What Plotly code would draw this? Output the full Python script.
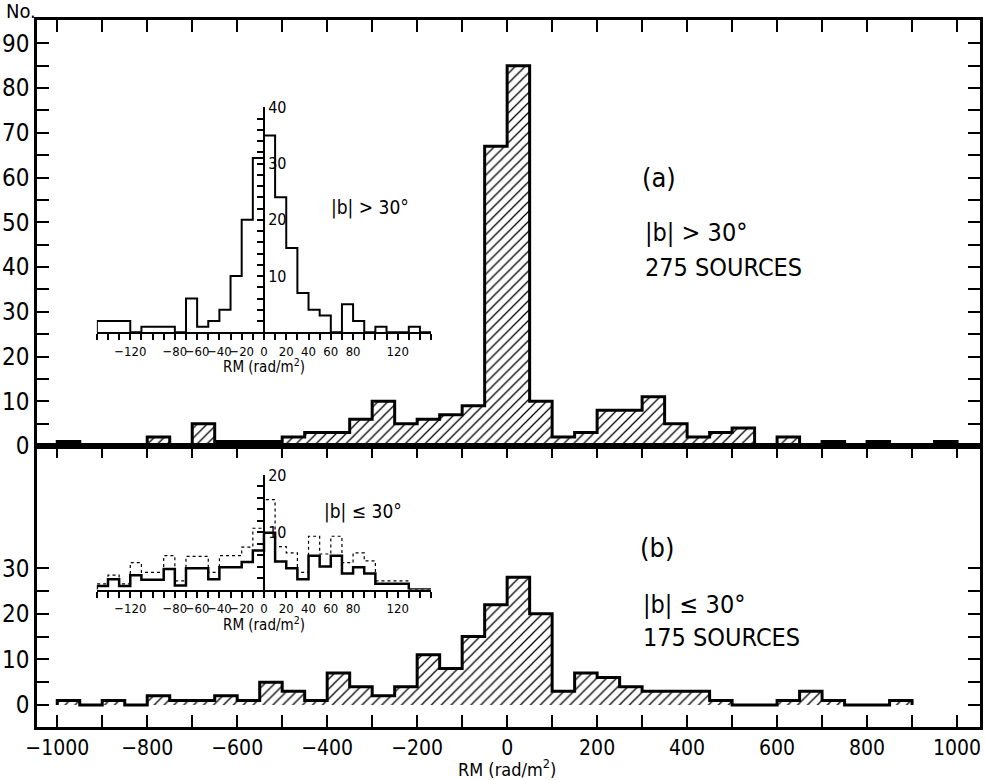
import numpy as np
import plotly.graph_objects as go

# ---------------- data ----------------
# main histograms: 50 rad/m^2 bins from -1000 to 1000
main_bin_start = list(range(-1000, 1000, 50))
main_bin_width = 50
high_lat_counts = [1, 0, 0, 0, 2, 0, 5, 1, 1, 1,
                   2, 3, 3, 6, 10, 5, 6, 7, 9, 67,
                   85, 10, 2, 3, 8, 8, 11, 5, 2, 3,
                   4, 0, 2, 0, 1, 0, 1, 0, 0, 1]
low_lat_counts = [1, 0, 1, 0, 2, 1, 1, 2, 1, 5,
                  3, 1, 7, 4, 2, 4, 11, 8, 15, 22,
                  28, 20, 3, 7, 6, 4, 3, 3, 3, 1,
                  0, 0, 1, 3, 1, 0, 0, 1, 0, 0]

# insets: 10 rad/m^2 bins from -150 to 150
inset_bin_start = list(range(-150, 150, 10))
inset_bin_width = 10
inset_high_counts = [2, 2, 2, 0, 1, 1, 1, 0, 6, 1,
                     2, 4, 10, 20, 31, 35, 24, 15, 7, 4,
                     3, 0, 5, 2, 0, 1, 0, 0, 1, 0]
inset_low_solid = [0.6, 1.8, 0.6, 2.5, 1.7, 1.7, 3.6, 0.7, 3.7, 3.7,
                   1.8, 3.9, 3.9, 4.8, 6.8, 9.9, 4.9, 3.7, 1.8, 5.9,
                   4.0, 5.9, 2.8, 3.9, 2.8, 1.0, 1.0, 1.0, 0, 0]
inset_low_dotted = [1.0, 2.5, 1.0, 4.7, 3.0, 3.0, 5.9, 1.5, 5.8, 5.8,
                    3.0, 5.9, 5.9, 7.4, 10.7, 15.7, 7.5, 6.4, 3.0, 9.3,
                    6.2, 9.3, 4.7, 6.4, 5.0, 1.5, 1.5, 1.5, 0, 0]

main_xlabel_vals = list(range(-1000, 1001, 200))
inset_xlabel_vals = [-120, -80, -60, -40, -20, 0, 20, 40, 60, 80, 120]

FONT = "Liberation Sans Narrow, DejaVu Sans Condensed, Arial Narrow, sans-serif"

# plot-area pixel geometry (figure 985x780)
L, R, T, B = 33, 2, 20, 53
W, H = 985 - L - R, 780 - T - B


def px(xp):
    return (xp - L) / W


def py(yp):
    return (780 - B - yp) / H


def step_xy(starts, width, vals, trim=False):
    starts = list(starts)
    vals = list(vals)
    if trim:
        nz = [i for i, v in enumerate(vals) if v]
        starts = starts[nz[0]:nz[-1] + 1]
        vals = vals[nz[0]:nz[-1] + 1]
    xs = [starts[0]] + starts + [starts[-1] + width]
    ys = [0] + vals + [0]
    return xs, ys


fig = go.Figure()

hatch = dict(shape="/", fgcolor="black", bgcolor="white", size=7, solidity=0.18, fillmode="replace")

centers = [s + main_bin_width / 2 for s in main_bin_start]
for counts, xa, ya in [(high_lat_counts, "x", "y"), (low_lat_counts, "x2", "y2")]:
    fig.add_trace(go.Bar(x=centers, y=counts, width=main_bin_width, xaxis=xa, yaxis=ya,
                         marker=dict(color="white", line=dict(width=0), pattern=hatch),
                         showlegend=False))
    sx, sy = step_xy(main_bin_start, main_bin_width, counts, trim=True)
    fig.add_trace(go.Scatter(x=sx, y=sy, mode="lines", line_shape="hv", xaxis=xa, yaxis=ya,
                             line=dict(color="black", width=3), showlegend=False))

sx, sy = step_xy(inset_bin_start, inset_bin_width, inset_high_counts)
fig.add_trace(go.Scatter(x=sx, y=sy, mode="lines", line_shape="hv", xaxis="x3", yaxis="y3",
                         line=dict(color="black", width=2), showlegend=False))
sx, sy = step_xy(inset_bin_start, inset_bin_width, inset_low_dotted)
fig.add_trace(go.Scatter(x=sx, y=sy, mode="lines", line_shape="hv", xaxis="x4", yaxis="y4",
                         line=dict(color="black", width=1.2, dash="dot"), showlegend=False))
sx, sy = step_xy(inset_bin_start, inset_bin_width, inset_low_solid)
fig.add_trace(go.Scatter(x=sx, y=sy, mode="lines", line_shape="hv", xaxis="x4", yaxis="y4",
                         line=dict(color="black", width=2.5), showlegend=False))

xrange_main = [-1045, 1051]
divider = py(446)

common = dict(showgrid=False, zeroline=False, showline=True, linecolor="black", linewidth=2.5,
              tickcolor="black", tickwidth=2)


def minor(dtick, tick0, ticklen, tickwidth=2):
    return dict(dtick=dtick, tick0=tick0, ticks="inside", ticklen=ticklen,
                tickwidth=tickwidth, tickcolor="black", showgrid=False)


inset_x = dict(common, linewidth=2, range=[-150, 150], ticks="outside", ticklen=6, tickwidth=1.5,
               tickvals=inset_xlabel_vals, tickfont=dict(size=13), tickangle=0,
               minor=dict(dtick=10, tick0=0, ticks="outside", ticklen=6, tickwidth=1.5,
                          tickcolor="black", showgrid=False))

fig.update_layout(
    width=985, height=780,
    margin=dict(l=L, r=R, t=T, b=B),
    paper_bgcolor="white", plot_bgcolor="white",
    bargap=0,
    font=dict(family=FONT, color="black"),
    xaxis=dict(common, domain=[0, 1], anchor="y", range=xrange_main, side="top", ticks="inside",
               ticklen=12, dtick=100, tick0=0, showticklabels=False, mirror=True),
    yaxis=dict(common, domain=[divider, 1], anchor="x", range=[0, 95.2], ticks="inside",
               ticklen=12, mirror="allticks", tickvals=list(range(0, 91, 10)),
               minor=minor(5, 0, 12), tickfont=dict(size=24)),
    xaxis2=dict(common, domain=[0, 1], anchor="y2", range=xrange_main, side="bottom", ticks="inside",
                ticklen=12, mirror="allticks", tickvals=main_xlabel_vals,
                minor=minor(100, 0, 12), tickfont=dict(size=21), tickangle=0),
    yaxis2=dict(common, domain=[0, divider], anchor="x2", range=[-4.83, 56.8], ticks="inside",
                ticklen=12, mirror="allticks", tickvals=[0, 10, 20, 30],
                minor=dict(minor(5, 0, 12), tickvals=[5, 15, 25]), tickfont=dict(size=24)),
    # inset (a)
    xaxis3=dict(inset_x, domain=[px(93.3), px(430)], anchor="y3"),
    yaxis3=dict(common, linewidth=2, domain=[py(332.3), py(107.3)], anchor="free",
                position=px(261.7), side="right", range=[0, 40], ticks="inside", ticklen=6,
                tickwidth=1.5, tickvals=[10, 20, 30, 40],
                minor=minor(2, 0, 6, 1.5), tickfont=dict(size=16)),
    # inset (b)
    xaxis4=dict(inset_x, domain=[px(93.3), px(430)], anchor="y4"),
    yaxis4=dict(common, linewidth=2, domain=[py(589.5), py(475)], anchor="free",
                position=px(261.7), side="right", range=[0, 20], ticks="inside", ticklen=6,
                tickwidth=1.5, tickvals=[10, 20],
                minor=minor(2, 0, 6, 1.5), tickfont=dict(size=16)),
)


def note(text, x, y, size, xanchor="left"):
    fig.add_annotation(text=text, x=px(x), y=py(y), xref="paper", yref="paper",
                       xanchor=xanchor, yanchor="middle", showarrow=False,
                       font=dict(family=FONT, size=size, color="black"))


note("No.", 0, 11, 20)
note("(a)", 640, 177, 27)
note("|b| > 30°", 643, 232, 25)
note("275 SOURCES", 643, 267, 25)
note("|b| > 30°", 327, 208, 19)
note("RM (rad/m<sup>2</sup>)", 262, 366, 15, "center")
note("(b)", 638, 547, 27)
note("|b| ≤ 30°", 641, 604, 25)
note("175 SOURCES", 641, 637, 25)
note("|b| ≤ 30°", 320, 511, 19)
note("RM (rad/m<sup>2</sup>)", 262, 624, 15, "center")
note("RM (rad/m<sup>2</sup>)", 506, 768, 18, "center")

fig.write_html("out.html")
